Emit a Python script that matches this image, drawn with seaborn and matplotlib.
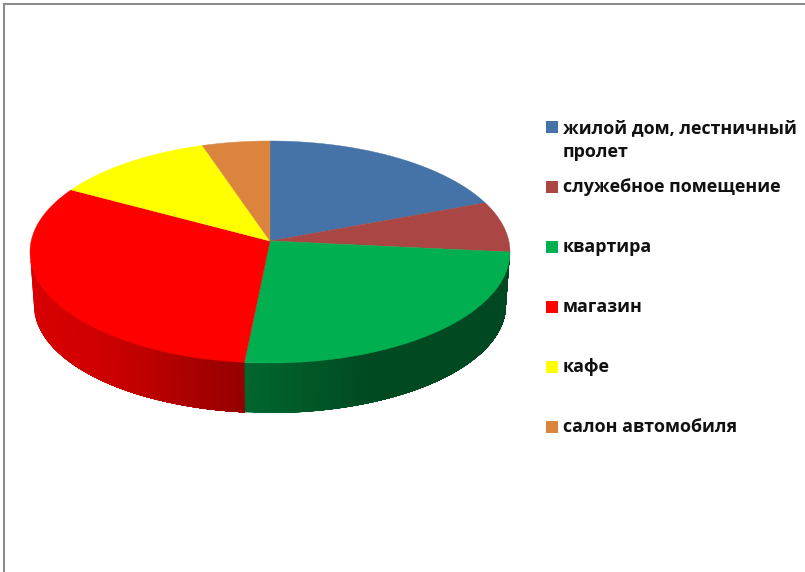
import numpy as np
import matplotlib
matplotlib.use("Agg")
import matplotlib.pyplot as plt
import seaborn as sns

labels = ["жилой дом, лестничный\nпролет", "служебное помещение", "квартира",
          "магазин", "кафе", "салон автомобиля"]
shares = [17.7, 7.3, 26.7, 32.75, 11.0, 4.55]
colors = ["#4572A7", "#AA4643", "#00B050", "#FF0000", "#FFFF00", "#DB843D"]

sns.set_theme(style="white")
plt.rcParams["font.family"] = ["Open Sans", "DejaVu Sans"]
palette = sns.color_palette(colors)

fig, ax = plt.subplots(figsize=(8.05, 5.72), dpi=100)
ax.set_position([0, 0, 1, 1])
ax.set_xlim(0, 805)
ax.set_ylim(572, 0)
ax.axis("off")

# ellipse of the top face, the apex sits behind its centre
cx, cy, rx, ry = 270, 252, 240, 111
apex_y = 241
# ellipse of the bottom rim
bot_cy, bot_rx, bot_ry = 305, 236, 108

edges = np.radians(np.cumsum([0] + shares) * 3.6)


def top_xy(t):
    return cx + rx * np.sin(t), cy - ry * np.cos(t)


def bot_xy(t):
    return cx + bot_rx * np.sin(t), bot_cy - bot_ry * np.cos(t)


def shade(t):
    # side wall gets darker going from left to right
    x = np.sin(t)
    return np.interp(x, [-1, -0.71, -0.54, -0.29, -0.1, 0.42, 1],
                     [0.85, 0.81, 0.75, 0.65, 0.58, 0.42, 0.41])


# side wall, only the front half shows
# painted left to right, each strip reaches to the slice end so no seams show
for i in range(len(palette) - 1, -1, -1):
    col = palette[i]
    t0 = max(edges[i], np.pi / 2)
    t1 = min(edges[i + 1], 3 * np.pi / 2)
    if t1 <= t0:
        continue
    steps = np.linspace(t1, t0, max(int(np.degrees(t1 - t0) / 2), 2) + 1)
    for a, b in zip(steps[:-1], steps[1:]):
        m = shade((a + b) / 2)
        t = np.linspace(a, t0, 60)
        tx, ty = top_xy(t)
        bx, by = bot_xy(t[::-1])
        c = tuple(v * m for v in col)
        ax.fill(np.r_[tx, bx], np.r_[ty, by], color=c, lw=0, zorder=2)

# top face
for i, col in enumerate(palette):
    t = np.linspace(edges[i], edges[i + 1], 80)
    x, y = top_xy(t)
    ax.fill(np.r_[cx, x], np.r_[apex_y, y], color=col, lw=0.3, zorder=3)

# legend
row_y = [140, 187, 247, 307, 367, 427]
for i, (lab, col) in enumerate(zip(labels, palette)):
    box_y = 127 if "\n" in lab else row_y[i]
    ax.add_patch(plt.Rectangle((546, box_y - 6), 12, 12, color=col, lw=0, zorder=3))
    ax.text(563, row_y[i], lab, fontsize=12.85, fontweight="bold", color="#111111",
            va="center", ha="left", linespacing=1.45)

# screenshot frame, top and left only
ax.plot([3.5, 805], [3.5, 3.5], color="#8c8c8c", lw=1.5, clip_on=False)
ax.plot([3.5, 3.5], [3.5, 572], color="#8c8c8c", lw=1.5, clip_on=False)

fig.savefig("out.png", dpi=100)
